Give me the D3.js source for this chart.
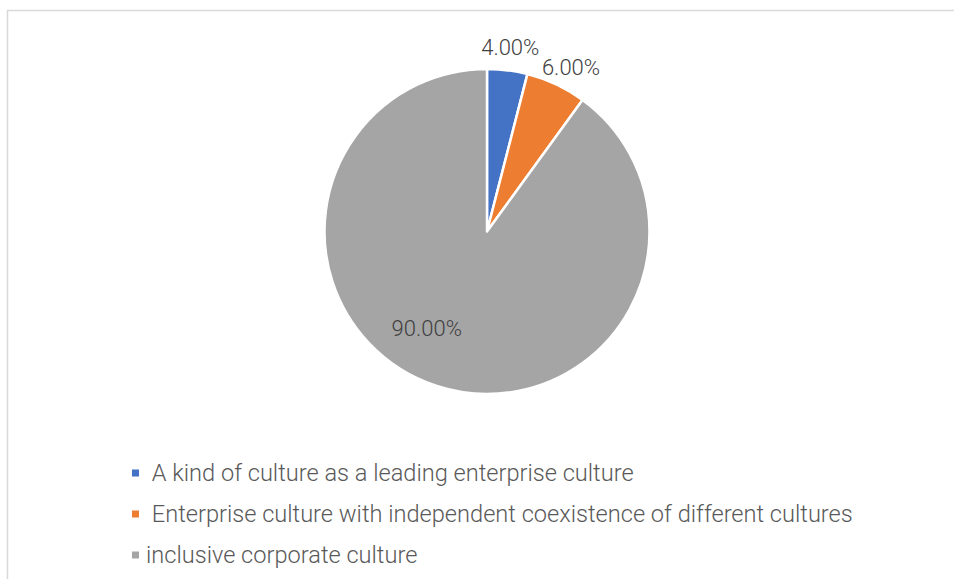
<!DOCTYPE html>
<html><head><meta charset="utf-8">
<script src="https://cdn.jsdelivr.net/npm/d3@7"></script>
<style>html,body{margin:0;padding:0;background:#fff;}svg{display:block;}</style>
</head><body>
<svg id="chart" width="954" height="579"></svg>
<script>
const categories = [
  " A kind of culture as a leading enterprise culture",
  " Enterprise culture with independent coexistence of different cultures",
  "inclusive corporate culture"
];
const values = [4, 6, 90];
const labels = ["4.00%", "6.00%", "90.00%"];
const colors = ["#4472C4", "#ED7D31", "#A5A5A5"];

const svg = d3.select("#chart");
const W = 954, H = 579;

// chart area border
svg.append("rect").attr("x", 7.5).attr("y", 10.5).attr("width", W).attr("height", H)
  .attr("fill", "#fff").attr("stroke", "#D9D9D9").attr("stroke-width", 1.5);

const cx = 487, cy = 231.5, r = 162.5;
const g = svg.append("g").attr("transform", `translate(${cx},${cy})`);

const pie = d3.pie().sort(null).value(d => d);
const arcs = pie(values);
const arc = d3.arc().innerRadius(0).outerRadius(r);

g.selectAll("path.slice").data(arcs).enter().append("path")
  .attr("class", "slice")
  .attr("d", arc)
  .attr("fill", (d, i) => colors[i])
  .attr("stroke", "#fff").attr("stroke-width", 2.5).attr("stroke-linejoin", "round");

const outerLabelArc = d3.arc().innerRadius(r + 23).outerRadius(r + 23);
const innerShift = 14 * Math.PI / 180;
g.selectAll("text.lbl").data(arcs).enter().append("text")
  .attr("class", "lbl")
  .attr("transform", (d, i) => {
    const frac = (d.endAngle - d.startAngle) / (2 * Math.PI);
    if (frac < 0.25) {
      const [x, y] = outerLabelArc.centroid(d);
      return `translate(${x + (i === 1 ? 5 : 0)},${y + (i === 1 ? 4 : 0)})`;
    }
    const a = (d.startAngle + d.endAngle) / 2 + innerShift;
    const rr = r * 0.7;
    return `translate(${rr * Math.sin(a)},${-rr * Math.cos(a)})`;
  })
  .attr("text-anchor", "middle").attr("dy", "0.35em")
  .attr("font-family", "Roboto, 'Noto Sans', sans-serif").attr("font-size", 22)
  .attr("font-weight", 300)
  .attr("fill", "#404040")
  .text((d, i) => labels[i]);

// legend
const legendY = d3.scalePoint().domain(d3.range(categories.length)).range([473, 555]);
const lg = svg.append("g");
const items = lg.selectAll("g.item").data(categories).enter().append("g")
  .attr("class", "item")
  .attr("transform", (d, i) => `translate(132,${legendY(i)})`);
items.append("rect").attr("x", 0).attr("y", -3.5).attr("width", 7).attr("height", 7)
  .attr("fill", (d, i) => colors[i]);
items.append("text").attr("x", 14).attr("dy", "0.35em")
  .attr("xml:space", "preserve").style("white-space", "pre")
  .attr("font-family", "Roboto, 'Noto Sans', sans-serif").attr("font-size", 23.6)
  .attr("font-weight", 300)
  .attr("fill", "#595959")
  .text(d => d);
</script>
</body></html>
